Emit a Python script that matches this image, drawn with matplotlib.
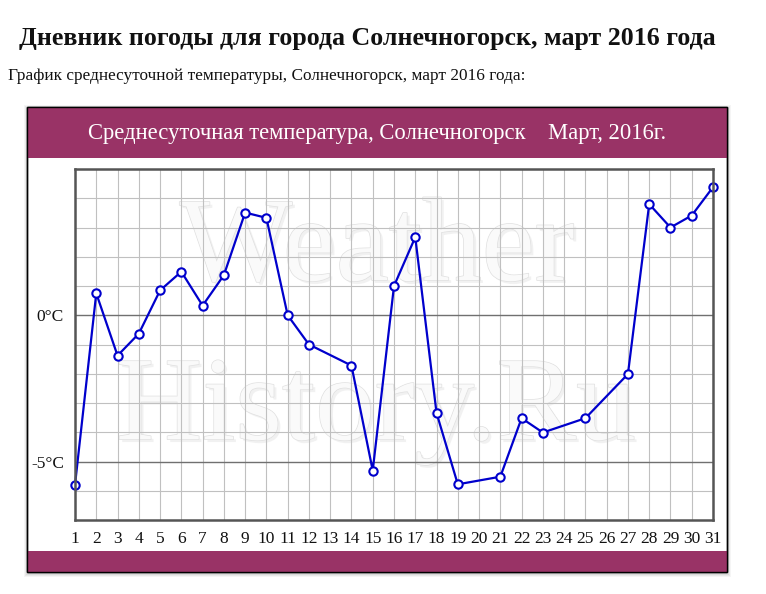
import matplotlib
matplotlib.use('Agg')
import matplotlib.pyplot as plt
import matplotlib.patheffects as pe
from matplotlib.patches import Rectangle

# дни марта и среднесуточная температура (дни 13, 20, 24, 26 пропущены)
days = [1, 2, 3, 4, 5, 6, 7, 8, 9, 10, 11, 12, 14, 15, 16, 17, 18, 19,
        21, 22, 23, 25, 27, 28, 29, 30, 31]
temps = [-5.8, 0.75, -1.38, -0.63, 0.85, 1.49, 0.33, 1.37, 3.51, 3.33, 0.0,
         -1.0, -1.72, -5.31, 1.0, 2.67, -3.34, -5.78, -5.52, -3.52, -4.01,
         -3.52, -2.01, 3.8, 3.0, 3.41, 4.38]
ytick_vals = [0, -5]
ytick_labels = ['0°C', '-5°C']

page_title = 'Дневник погоды для города Солнечногорск, март 2016 года'
sub_title = 'График среднесуточной температуры, Солнечногорск, март 2016 года:'
chart_title = 'Среднесуточная температура, Солнечногорск    Март, 2016г.'

W, H = 766, 594
serif = ['Liberation Serif', 'DejaVu Serif']
maroon = '#993366'

fig = plt.figure(figsize=(W / 100, H / 100), dpi=100)

# фон в пиксельных координатах
bg = fig.add_axes([0, 0, 1, 1])
bg.set_xlim(0, W)
bg.set_ylim(H, 0)
bg.axis('off')

bg.text(367, 38, page_title, family=serif, fontsize=18.6, fontweight='bold',
        ha='center', va='center', color='#111111')
bg.text(8, 76, sub_title, family=serif, fontsize=12.4, ha='left', va='center',
        color='#111111')

# тень и рамка панели
for i, a in enumerate([0.06, 0.05, 0.04]):
    bg.add_patch(Rectangle((27 - i - 1, 107 - i), 700 + 2 * i + 3, 465 + 2 * i + 3,
                           facecolor='black', alpha=a, edgecolor='none'))
bg.add_patch(Rectangle((27, 107), 700, 465, facecolor='white', edgecolor='black', lw=1))
bg.add_patch(Rectangle((27, 107), 700, 51, facecolor=maroon, edgecolor='none'))
bg.add_patch(Rectangle((27, 551), 700, 21, facecolor=maroon, edgecolor='none'))
bg.add_patch(Rectangle((27, 107), 700, 465, facecolor='none', edgecolor='black', lw=1))
bg.text(377, 133, chart_title, family=serif, fontsize=16.3, color='white',
        ha='center', va='center')

# график
ax = fig.add_axes([75 / W, (H - 520) / H, (713 - 75) / W, (520 - 169) / H])
ax.set_xlim(1, 31)
ax.set_ylim(-7, 5)

for d in range(1, 32):
    ax.axvline(d, color='#c0c0c0', lw=0.8, zorder=1)
for t in range(-7, 6):
    c = '#707070' if t in ytick_vals else '#c0c0c0'
    ax.axhline(t, color=c, lw=1.0 if t in ytick_vals else 0.8, zorder=1)

fx = [pe.withSimplePatchShadow(offset=(2, -2), shadow_rgbFace='#e4e4e4', alpha=0.5),
      pe.Stroke(linewidth=1.0, foreground='#e0e0e0'), pe.Normal()]
ax.text(15.2, 1.2, 'Weather', family=serif, fontsize=86, color='#fafafa',
        ha='center', va='baseline', zorder=0.5, path_effects=fx)
ax.text(15.15, -4.24, 'History.Ru', family=serif, fontsize=86, color='#fafafa',
        ha='center', va='baseline', zorder=0.5, path_effects=fx)

ax.plot(days, temps, color='#0000cc', lw=1.6, marker='o', markersize=6,
        markerfacecolor='white', markeredgecolor='#0000cc', markeredgewidth=1.5,
        clip_on=False, zorder=3)

ax.set_xticks(range(1, 32))
ax.set_xticklabels([str(d) for d in range(1, 32)], family=serif, fontsize=12.5)
ax.set_yticks(ytick_vals)
ax.set_yticklabels(ytick_labels, family=serif, fontsize=12.5)
ax.tick_params(length=0, pad=8, colors='#111111')
for s in ax.spines.values():
    s.set_color('#555555')
    s.set_linewidth(1.8)
    s.set_zorder(4)

fig.savefig('out.png', dpi=100)
